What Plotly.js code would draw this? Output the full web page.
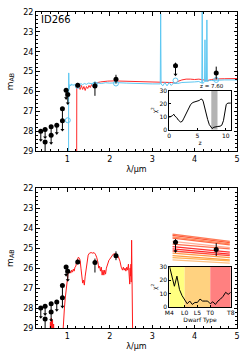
<!DOCTYPE html>
<html><head><meta charset="utf-8">
<script src="https://cdn.plot.ly/plotly-3.0.1.min.js"></script>
<style>html,body{margin:0;padding:0;background:#fff}#chart{width:249px;height:362px}</style>
</head><body><div id="chart"></div>
<script>
// ---------- observed photometry ----------
const wavelength   = [0.373, 0.475, 0.475, 0.617, 0.617, 0.75, 0.883, 0.883, 0.97, 1.01, 1.244, 1.65, 2.146, 3.55, 4.51];
const magnitude    = [28.0, 27.91, 28.55, 27.78, 28.2, 27.7, 26.87, 27.48, 25.94, 26.15, 25.69, 25.72, 25.38, 24.7, 25.07];
const errBright    = [0, 0, 0, 0, 0, 0, 0, 0, 0, 0, 0.12, 0.2, 0.22, 0.15, 0.32];
const errFaint     = [0.45, 0.4, 0.6, 0.42, 0.4, 0.4, 0.6, 0.45, 0.4, 0.45, 0.12, 0.5, 0.22, 0.45, 0.32];
const isUpperLimit = [1, 1, 0, 1, 1, 1, 0, 1, 1, 1, 0, 0, 0, 1, 0];

// ---------- model photometry of best galaxy fit ----------
const modelWl  = [1.01, 1.244, 1.65, 2.146, 3.55, 4.51];
const modelMag = [27.45, 25.72, 25.65, 25.6, 25.45, 25.42];

// ---------- galaxy SED, z = 7.60 ----------
const galWl  = [0.30, 1.028, 1.03, 1.034, 1.038, 1.045, 1.06, 1.08, 1.1, 1.13, 1.16, 1.2, 1.24, 1.28, 1.32, 1.36, 1.4, 1.45, 1.5, 1.6, 1.7, 1.8, 1.9, 2.0, 2.2, 2.4, 2.6, 2.8, 3.0, 3.19, 3.2, 3.21, 3.25, 3.3, 3.35, 3.4, 3.45, 3.5, 3.6, 3.7, 3.8, 3.9, 4.0, 4.1, 4.17, 4.18, 4.19, 4.22, 4.235, 4.245, 4.255, 4.28, 4.29, 4.30, 4.35, 4.4, 4.5, 4.7, 5.0];
const galMag = [31, 31, 25.07, 25.07, 25.9, 25.75, 25.65, 25.72, 25.62, 25.7, 25.65, 25.72, 25.62, 25.68, 25.6, 25.66, 25.6, 25.64, 25.58, 25.62, 25.57, 25.6, 25.56, 25.58, 25.56, 25.58, 25.6, 25.6, 25.62, 25.62, 22.1, 25.62, 25.72, 25.55, 25.72, 25.55, 25.7, 25.58, 25.6, 25.55, 25.55, 25.52, 25.52, 25.5, 25.58, 21.8, 25.6, 25.55, 25.5, 23.4, 25.5, 25.5, 22.4, 25.5, 25.45, 25.45, 25.43, 25.42, 25.42];

// ---------- alternative SED (red) ----------
const altWl  = [1.20, 1.218, 1.222, 1.24, 1.27, 1.30, 1.33, 1.36, 1.39, 1.42, 1.45, 1.48, 1.51, 1.54, 1.57, 1.60, 1.64, 1.68, 1.72, 1.78, 1.85, 1.95, 2.1, 2.3, 2.5, 2.7, 2.9, 3.1, 3.3, 3.45, 3.55, 3.6, 3.7, 3.8, 3.9, 4.0, 4.1, 4.2, 4.3, 4.4, 4.5, 4.7, 5.0];
const altMag = [31, 31, 25.65, 25.7, 25.75, 25.9, 25.7, 25.9, 25.75, 25.95, 25.75, 25.85, 25.7, 25.8, 25.65, 25.75, 25.6, 25.62, 25.55, 25.52, 25.5, 25.48, 25.47, 25.48, 25.5, 25.5, 25.5, 25.52, 25.52, 25.55, 25.58, 25.5, 25.42, 25.38, 25.38, 25.4, 25.38, 25.42, 25.45, 25.4, 25.37, 25.36, 25.35];

// ---------- brown dwarf template ----------
const dwarfWl  = [0.58, 0.60, 0.61, 0.62, 0.635, 0.65, 0.66, 0.675, 0.69, 0.70, 0.86, 0.89, 0.91, 0.93, 0.95, 0.97, 0.985, 1.0, 1.02, 1.04, 1.06, 1.08, 1.10, 1.12, 1.14, 1.16, 1.18, 1.20, 1.22, 1.24, 1.26, 1.28, 1.30, 1.32, 1.34, 1.36, 1.38, 1.40, 1.42, 1.44, 1.46, 1.49, 1.52, 1.56, 1.60, 1.63, 1.66, 1.69, 1.72, 1.74, 1.76, 1.78, 1.80, 1.82, 1.84, 1.86, 1.88, 1.90, 1.92, 1.94, 1.96, 1.98, 2.0, 2.04, 2.08, 2.12, 2.16, 2.2, 2.24, 2.27, 2.3, 2.32, 2.34, 2.36, 2.38, 2.4, 2.42, 2.44, 2.45, 2.46, 2.47, 2.48, 2.49, 2.5, 2.505, 2.51, 2.515, 2.52, 2.53, 2.54, 2.56];
const dwarfMag = [30, 28.7, 29.4, 28.5, 29.3, 28.6, 29.4, 28.8, 29.5, 30.5, 30.5, 29.2, 28.6, 28.0, 27.5, 27.1, 26.8, 26.4, 26.2, 26.1, 26.15, 26.25, 26.1, 26.2, 26.05, 26.15, 25.95, 25.9, 25.65, 25.5, 25.45, 25.5, 25.6, 26.0, 26.5, 26.75, 26.6, 26.85, 26.4, 26.0, 25.65, 25.35, 25.25, 25.22, 25.25, 25.22, 25.3, 25.45, 25.7, 26.0, 25.9, 26.15, 25.95, 26.35, 26.1, 26.35, 26.1, 26.3, 26.0, 25.85, 25.7, 25.6, 25.55, 25.4, 25.3, 25.28, 25.32, 25.42, 25.65, 25.95, 26.1, 25.95, 26.1, 26.0, 26.15, 25.95, 26.1, 25.8, 26.6, 26.1, 26.8, 26.0, 26.4, 25.8, 26.7, 25.9, 24.6, 26.0, 27.5, 29.5, 31];

// ---------- dwarf templates in IRAC bands ----------
const iracEdgeWl = [3.48, 4.83];
const iracLeftMag  = [24.30, 24.36, 24.43, 24.50, 24.66, 24.80, 24.92, 25.03, 25.14, 25.25, 25.37, 25.47, 25.59];
const iracRightMag = [24.66, 24.72, 24.78, 24.83, 24.97, 25.03, 25.20, 25.30, 25.37, 25.47, 25.59, 25.64, 25.75];
const iracLineColors = ['#ff7a55', '#ff5a3a', '#ff8a5a', '#ff6a45', '#ffb09a', '#ff7050', '#ff3030', '#ff2a2a', '#ff4a3a', '#ff9a45', '#ffa040', '#ffb050', '#ffc080'];

// ---------- chi2 vs redshift ----------
const zGrid = [0, 0.3, 0.6, 0.8, 1.0, 1.3, 1.6, 2.0, 2.3, 2.6, 3.0, 3.4, 3.8, 4.2, 4.6, 5.0, 5.3, 5.6, 5.8, 6.0, 6.2, 6.5, 6.8, 7.1, 7.4, 7.6, 7.9, 8.2, 8.6, 9.0, 9.3, 9.6, 9.9, 10.1, 10.4, 10.8, 11.0];
const chi2z = [9.5, 10, 11, 12, 10.5, 9.5, 7.5, 6, 6.5, 9, 12.5, 16, 19.5, 21, 21.5, 22, 22.5, 23.5, 23.5, 22, 18, 13, 8, 4, 1.5, 1, 2, 2.5, 2.6, 2.8, 3.5, 7, 14, 19.5, 20.5, 20.5, 20.5];
const zBest = 7.60, zLow = 7.45, zHigh = 8.55;

// ---------- chi2 vs dwarf type ----------
const dwarfTypes = ['M4','M5','M6','M7','M8','M9','L0','L1','L2','L3','L4','L5','L6','L7','L8','L9','T0','T1','T2','T3','T4','T5','T6','T7','T8'];
const chi2Dwarf  = [31, 22, 15.5, 23, 13, 8.5, 5.5, 2.5, 4.5, 2, 3.5, 3.5, 6, 4.5, 4.5, 4.5, 2.5, 4, 2, 4.5, 6, 8, 11, 9.5, 11];
const dwarfTickLabels = ['M4','L0','L5','T0','T8'];
const classBounds = [['M4','L0'], ['L0','T0'], ['T0','T8']];
const classColors = ['#ffff80', '#ffd280', '#ff8080'];

const F = 'DejaVu Sans';
const typeIdx = dwarfTypes.map((_, i) => i);
const idxOf = t => dwarfTypes.indexOf(t);

function photTraces(xa, ya) {
  const limWl = [], limTip = [];
  wavelength.forEach((w, i) => { if (isUpperLimit[i]) { limWl.push(w); limTip.push(magnitude[i] + errFaint[i]); } });
  return [
    {x: wavelength, y: magnitude, xaxis: xa, yaxis: ya, type: 'scatter', mode: 'markers',
     marker: {color: 'black', size: 5},
     error_y: {type: 'data', symmetric: false, array: errFaint, arrayminus: errBright, color: 'black', thickness: 1, width: 0}},
    {x: limWl, y: limTip, xaxis: xa, yaxis: ya, type: 'scatter', mode: 'markers',
     marker: {color: 'black', size: 3.5, symbol: 'triangle-down'}}
  ];
}

const traces = [];
// shaded regions in the chi2 insets (drawn as filled traces)
classBounds.forEach((b, i) => {
  traces.push({x: [idxOf(b[0]), idxOf(b[1]), idxOf(b[1]), idxOf(b[0])], y: [0, 0, 30, 30], xaxis: 'x4', yaxis: 'y4',
               mode: 'lines', fill: 'toself', fillcolor: classColors[i], line: {width: 0}});
});
traces.push({x: [zLow, zHigh, zHigh, zLow], y: [0, 0, 30, 30], xaxis: 'x3', yaxis: 'y3',
             mode: 'lines', fill: 'toself', fillcolor: '#b4b4b4', line: {width: 0}});
// top panel
traces.push({x: altWl, y: altMag, xaxis: 'x', yaxis: 'y', mode: 'lines', line: {color: '#ff2a2a', width: 1}});
traces.push({x: galWl, y: galMag, xaxis: 'x', yaxis: 'y', mode: 'lines', line: {color: '#5ec8f2', width: 1}});
traces.push({x: modelWl, y: modelMag, xaxis: 'x', yaxis: 'y', mode: 'markers', marker: {symbol: 'circle-open', color: '#5ec8f2', size: 5, line: {width: 1}}});
traces.push(...photTraces('x', 'y'));
// bottom panel
traces.push({x: dwarfWl, y: dwarfMag, xaxis: 'x2', yaxis: 'y2', mode: 'lines', line: {color: '#ff1a1a', width: 1}});
iracLeftMag.forEach((m, i) => {
  traces.push({x: iracEdgeWl, y: [m, iracRightMag[i]], xaxis: 'x2', yaxis: 'y2', mode: 'lines', line: {color: iracLineColors[i], width: 1.3}});
});
traces.push(...photTraces('x2', 'y2'));
// chi2 insets
traces.push({x: zGrid, y: chi2z, xaxis: 'x3', yaxis: 'y3', mode: 'lines', line: {color: 'black', width: 1}});
traces.push({x: typeIdx, y: chi2Dwarf, xaxis: 'x4', yaxis: 'y4', mode: 'lines', line: {color: 'black', width: 1}});

const mainX = (anchor) => ({
  anchor, range: [0.26, 5], domain: [0, 1], dtick: 1, tick0: 0,
  ticks: 'inside', ticklen: 3.5, tickcolor: 'black', mirror: 'allticks', showline: true, linecolor: 'black', linewidth: 1,
  showgrid: false, zeroline: false, tickfont: {family: F, size: 8, color: 'black'},
  minor: {ticks: 'inside', ticklen: 2, dtick: 0.2, tickcolor: 'black', showgrid: false},
  title: {text: 'λ/µm', font: {family: F, size: 8, color: 'black'}, standoff: 3}
});
const mainY = (anchor, domain) => ({
  anchor, domain, range: [29, 22], dtick: 1,
  ticks: 'inside', ticklen: 3.5, tickcolor: 'black', mirror: 'allticks', showline: true, linecolor: 'black', linewidth: 1,
  showgrid: false, zeroline: false, tickfont: {family: F, size: 8, color: 'black'},
  minor: {ticks: 'inside', ticklen: 2, dtick: 0.2, tickcolor: 'black', showgrid: false},
  title: {text: 'm<sub>AB</sub>', font: {family: F, size: 9, color: 'black'}, standoff: 8}
});
const insetAx = (anchor, domain, range, extra) => Object.assign({
  anchor, domain, range, ticks: 'inside', ticklen: 2, tickcolor: 'black', mirror: true, showline: true,
  linecolor: 'black', linewidth: 1, showgrid: false, zeroline: false,
  tickfont: {family: F, size: 6, color: 'black'}
}, extra);

const layout = {
  width: 249, height: 362, margin: {l: 36, r: 12, t: 12, b: 34},
  paper_bgcolor: 'white', plot_bgcolor: 'white', showlegend: false,
  font: {family: F, color: 'black'},
  xaxis: mainX('y'),
  yaxis: mainY('x', [0.56, 1]),
  xaxis2: mainX('y2'),
  yaxis2: mainY('x2', [0, 0.442]),
  xaxis3: insetAx('y3', [0.663, 0.969], [0, 10.9], {dtick: 5, title: {text: 'z', font: {family: F, size: 6}, standoff: 0}}),
  yaxis3: insetAx('x3', [0.627, 0.751], [0, 30], {dtick: 10, title: {text: 'χ<sup>2</sup>', font: {family: F, size: 6}, standoff: 1}}),
  xaxis4: insetAx('y4', [0.663, 0.969], [0, 24], {tickvals: dwarfTickLabels.map(idxOf), ticktext: dwarfTickLabels,
           title: {text: 'Dwarf Type', font: {family: F, size: 6}, standoff: 0}}),
  yaxis4: insetAx('x4', [0.066, 0.194], [0, 30], {dtick: 10, title: {text: 'χ<sup>2</sup>', font: {family: F, size: 6}, standoff: 1}}),
  annotations: [
    {text: 'ID266', xref: 'paper', yref: 'paper', x: 0.016, y: 0.975, xanchor: 'left', yanchor: 'middle', showarrow: false,
     font: {family: F, size: 10, color: 'black'}},
    {text: 'z = ' + zBest.toFixed(2), xref: 'paper', yref: 'paper', x: 0.876, y: 0.767, xanchor: 'center', yanchor: 'middle', showarrow: false,
     font: {family: F, size: 5.5, color: 'black'}}
  ]
};

Plotly.newPlot('chart', traces, layout, {displayModeBar: false, staticPlot: true});
</script>
</body></html>
